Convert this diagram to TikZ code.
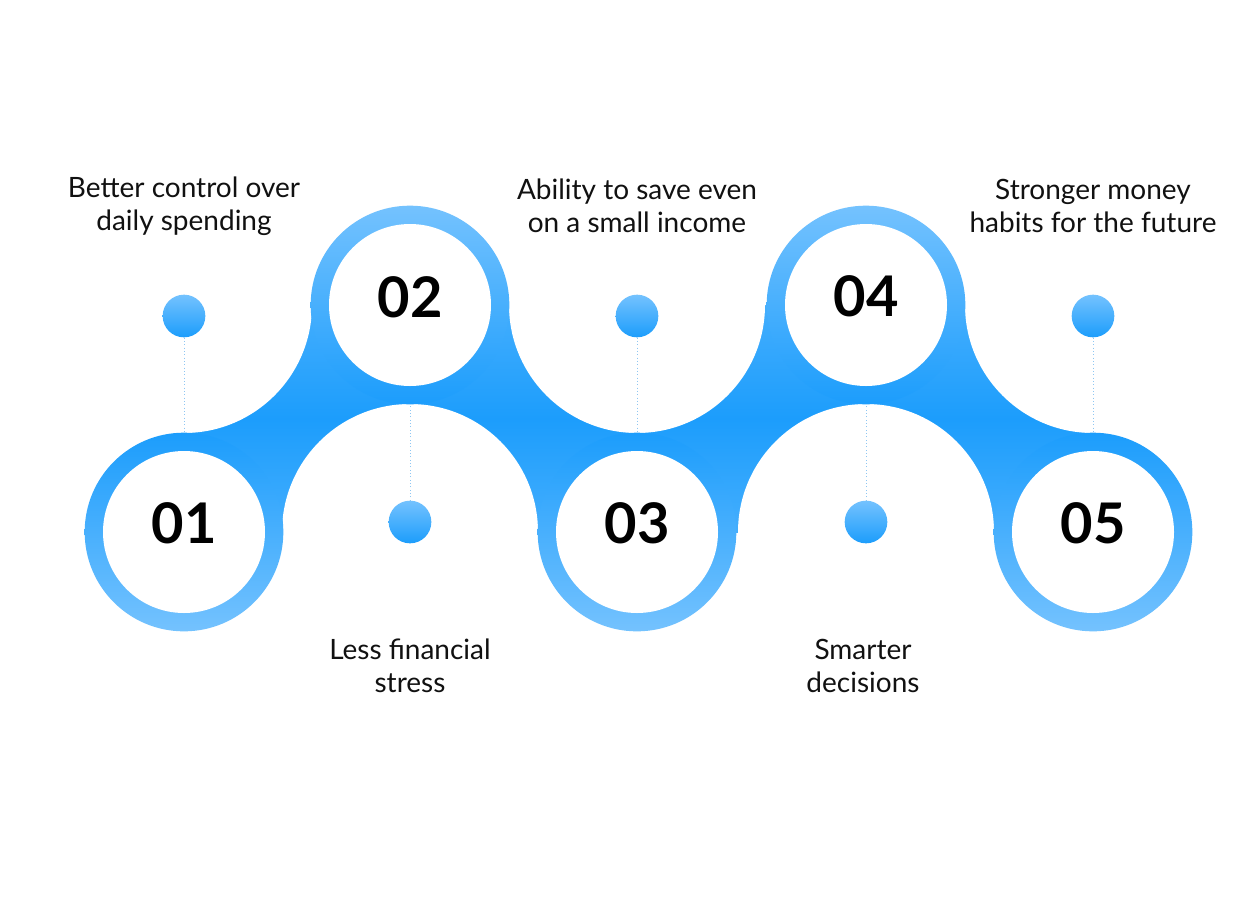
\documentclass[tikz,border=0pt]{standalone}
\usepackage{fontspec}
\setmainfont{Lato}
\usetikzlibrary{positioning}
\definecolor{bandLight}{HTML}{74C2FE}
\definecolor{bandDark}{HTML}{1C9DFC}
\definecolor{bandMid}{HTML}{44AEFD}
\definecolor{tieBlue}{HTML}{8EC6F2}
\definecolor{txtBlack}{HTML}{111111}

\begin{document}
\begin{tikzpicture}[x=0.75pt,y=-0.75pt,
        ringup/.style={circle,inner sep=0pt,minimum size=149pt,top color=bandDark,bottom color=bandLight},
        ringdown/.style={circle,inner sep=0pt,minimum size=149pt,top color=bandLight,bottom color=bandDark},
        hole/.style={circle,fill=white,inner sep=0pt,minimum size=121.5pt},
        numtext/.style={font=\fontsize{42}{42}\selectfont\bfseries,text=black},
        dot/.style={circle,inner sep=0pt,minimum size=32pt,top color=bandLight,bottom color=bandDark},
        tie/.style={tieBlue,line width=0.5pt,dotted},
        caption/.style={align=center,font=\fontsize{21}{25}\selectfont,text=txtBlack}]
        \useasboundingbox[fill=white] (0,0) rectangle (1260,904);
        % band and the white gaps cut out of it
        \path[top color=bandMid,bottom color=bandMid,middle color=bandDark] (184,305) rectangle (1093,532);
        \fill[white] (184,305) circle[radius=96pt];
        \fill[white] (410,532) circle[radius=96pt];
        \fill[white] (637,305) circle[radius=96pt];
        \fill[white] (866,532) circle[radius=96pt];
        \fill[white] (1093,305) circle[radius=96pt];
        % steps
        \node[ringup] (r1) at (184,532) {};
        \node[ringdown] (r2) at (410,305) {};
        \node[ringup] (r3) at (637,532) {};
        \node[ringdown] (r4) at (866,305) {};
        \node[ringup] (r5) at (1093,532) {};
        \node[hole] (h1) at (r1) {};
        \node[hole] (h2) at (r2) {};
        \node[hole] (h3) at (r3) {};
        \node[hole] (h4) at (r4) {};
        \node[hole] (h5) at (r5) {};
        \node[numtext] (n1) at (184,523) {01};
        \node[numtext] (n2) at (410,297) {02};
        \node[numtext] (n3) at (637,523) {03};
        \node[numtext] (n4) at (866,296) {04};
        \node[numtext] (n5) at (1093,523) {05};
        \node[dot] (d1) at (184,316) {};
        \node[dot] (d2) at (410,522) {};
        \node[dot] (d3) at (637,316) {};
        \node[dot] (d4) at (866,522) {};
        \node[dot] (d5) at (1093,316) {};
        \draw[tie] (d1)--(r1);
        \draw[tie] (d2)--(r2);
        \draw[tie] (d3)--(r3);
        \draw[tie] (d4)--(r4);
        \draw[tie] (d5)--(r5);
        \node[caption] (t1) at (184,206) {Better control over\\daily spending};
        \node[caption] (t2) at (410,666) {Less financial\\stress};
        \node[caption] (t3) at (637,206) {Ability to save even\\on a small income};
        \node[caption] (t4) at (863,666) {Smarter\\decisions};
        \node[caption] (t5) at (1093,206) {Stronger money\\habits for the future};
      \end{tikzpicture}
\end{document}
